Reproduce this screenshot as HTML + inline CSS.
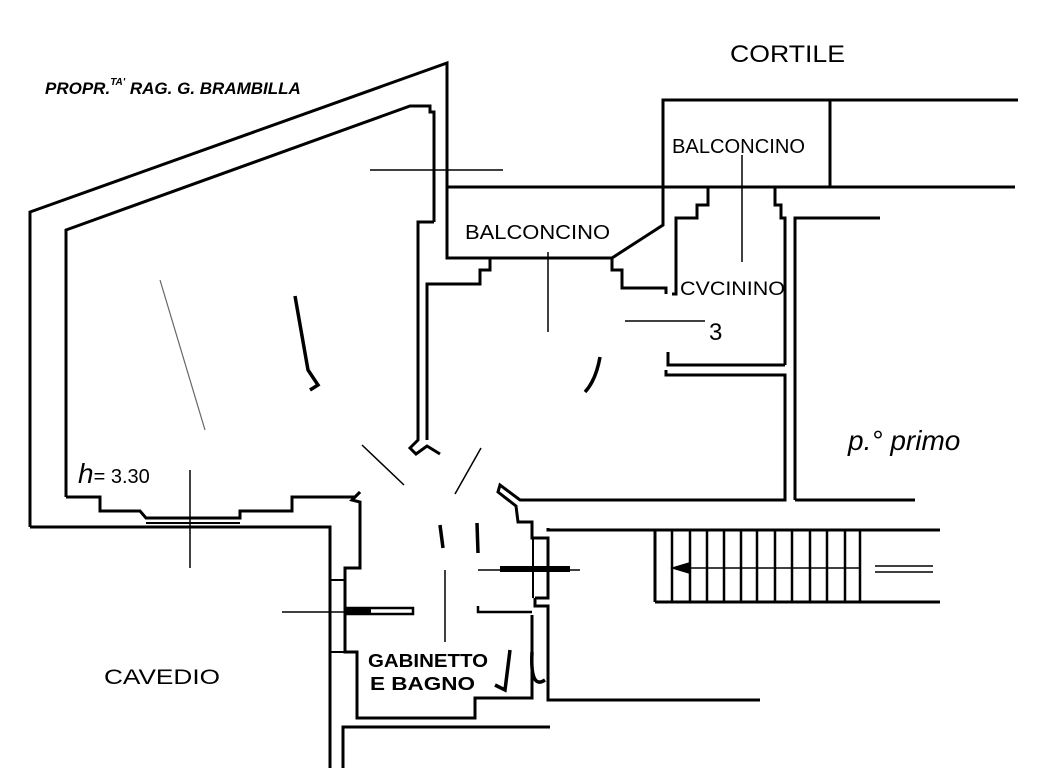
<!DOCTYPE html>
<html><head><meta charset="utf-8"><style>
html,body{margin:0;padding:0;background:#fff;}
svg{display:block}
text{font-family:"Liberation Sans",sans-serif;fill:#000}
</style></head><body>
<svg width="1052" height="768" viewBox="0 0 1052 768" xmlns="http://www.w3.org/2000/svg">
<g fill="none" stroke="#000" stroke-width="3" stroke-linejoin="miter">
<polyline points="30,527 30,212 447,63 447,190"/>
<polyline points="330,768 330,527 30,527"/>
<polyline points="66,497 66,230 410,106 430,106 430,112 434,112 434,222"/>
<polyline points="66,497 100,497 100,511 140,511 146,518 240,518 240,511 292,511 292,497 355,497 360,492"/>
<line x1="146" y1="523" x2="240" y2="523" stroke-width="2"/>
<polyline points="447,190 447,258 612,258 663,225 663,187"/>
<line x1="447" y1="187" x2="1015" y2="187"/>
<polyline points="663,187 663,100 1018,100"/>
<line x1="830" y1="100" x2="830" y2="187"/>
<polyline points="434,222 418,222 418,440 410,448 416,454 427,446 440,454"/>
<polyline points="427,440 427,284 480,284 480,270 490,270 490,258"/>
<polyline points="612,258 612,270 622,270 622,288 666,288 666,294"/>
<polyline points="672,294 676,294 676,218 697,218 697,205 708,205 708,187"/>
<polyline points="775,187 775,205 781,205 781,218 785,218 785,365"/>
<polyline points="795,500 795,218 880,218"/>
<polyline points="668,352 668,365 785,365"/>
<polyline points="666,370 666,375 785,375 785,500 520,500 500,485 498,492 516,506 518,522 532,522 532,528"/>
<line x1="795" y1="500" x2="915" y2="500"/>
<polyline points="548,528 548,530 940,530"/>
<line x1="655" y1="602" x2="940" y2="602"/>
<line x1="655" y1="530" x2="655" y2="602"/>
<polyline points="360,492 352,500 360,502 360,568 345,568 345,652 357,652 357,718 475,718 475,698 532,698 532,615"/>
<line x1="345" y1="580" x2="330" y2="580" stroke-width="2"/>
<line x1="345" y1="652" x2="330" y2="652" stroke-width="2"/>
<polyline points="343,768 343,727 550,727"/>
<polyline points="532,528 532,538 548,538 548,598 535,598"/>
<polyline points="535,598 535,606 548,606 548,700 760,700"/>
<line x1="533" y1="538" x2="533" y2="598" stroke-width="2"/>
<rect x="345" y="608" width="68" height="6" stroke-width="2.5"/>
<polyline points="478,606 478,612 532,612" stroke-width="2.5"/>
</g>
<g stroke="#000" stroke-width="2.5">
<line x1="672" y1="530" x2="672" y2="602"/><line x1="690" y1="530" x2="690" y2="602"/>
<line x1="707" y1="530" x2="707" y2="602"/><line x1="724" y1="530" x2="724" y2="602"/>
<line x1="741" y1="530" x2="741" y2="602"/><line x1="757" y1="530" x2="757" y2="602"/>
<line x1="775" y1="530" x2="775" y2="602"/><line x1="792" y1="530" x2="792" y2="602"/>
<line x1="810" y1="530" x2="810" y2="602"/><line x1="827" y1="530" x2="827" y2="602"/>
<line x1="845" y1="530" x2="845" y2="602"/><line x1="860" y1="530" x2="860" y2="602"/>
</g>
<g stroke="#000" stroke-width="1.5">
<line x1="675" y1="568" x2="860" y2="568"/>
<line x1="370" y1="170" x2="503" y2="170"/>
<line x1="548" y1="252" x2="548" y2="332"/>
<line x1="742" y1="155" x2="742" y2="262"/>
<line x1="625" y1="321" x2="705" y2="321"/>
<line x1="190" y1="470" x2="190" y2="568"/>
<line x1="362" y1="445" x2="404" y2="485"/>
<line x1="481" y1="448" x2="455" y2="494"/>
<line x1="445" y1="570" x2="445" y2="642"/>
<line x1="282" y1="612" x2="345" y2="612"/>
<line x1="478" y1="570" x2="580" y2="570"/>
<line x1="875" y1="566" x2="933" y2="566"/>
<line x1="875" y1="572" x2="933" y2="572"/>
</g>
<polygon points="670,568 690,562 690,574" fill="#000"/>
<rect x="500" y="566" width="70" height="6" fill="#000"/>
<rect x="346" y="609" width="25" height="5" fill="#000"/>
<g stroke="#000" stroke-width="3.5" fill="none">
<line x1="440" y1="525" x2="443" y2="548"/>
<line x1="477" y1="523" x2="478" y2="553"/>
<path d="M295,296 L308,370 L318,385 L310,390"/>
<path d="M600,357 Q596,380 585,392"/>
<path d="M532,652 Q530,690 545,680"/>
<path d="M510,650 L505,690 L495,685"/>
</g>
<g stroke="#666" stroke-width="1.2" fill="none">
<line x1="160" y1="280" x2="205" y2="430"/>
</g>
<text x="730" y="62" font-size="24" textLength="115" lengthAdjust="spacingAndGlyphs">CORTILE</text>
<text x="45" y="94" font-size="17" font-style="italic" font-weight="bold">PROPR.<tspan font-size="10" dy="-9">TA'</tspan><tspan dy="9"> RAG. G. BRAMBILLA</tspan></text>
<text x="465" y="239" font-size="20" textLength="145" lengthAdjust="spacingAndGlyphs">BALCONCINO</text>
<text x="672" y="153" font-size="20" textLength="133" lengthAdjust="spacingAndGlyphs">BALCONCINO</text>
<text x="680" y="295" font-size="19" textLength="105" lengthAdjust="spacingAndGlyphs">CVCININO</text>
<text x="709" y="340" font-size="24">3</text>
<text x="104" y="684" font-size="21" textLength="116" lengthAdjust="spacingAndGlyphs">CAVEDIO</text>
<text x="368" y="667" font-size="18" font-weight="bold" textLength="120" lengthAdjust="spacingAndGlyphs">GABINETTO</text>
<text x="370" y="690" font-size="18" font-weight="bold" textLength="105" lengthAdjust="spacingAndGlyphs">E BAGNO</text>
<text x="848" y="450" font-size="28" font-style="italic">p.° primo</text>
<text x="78" y="483" font-size="20"><tspan font-size="28" font-style="italic">h</tspan>= 3.30</text>
</svg>
</body></html>
